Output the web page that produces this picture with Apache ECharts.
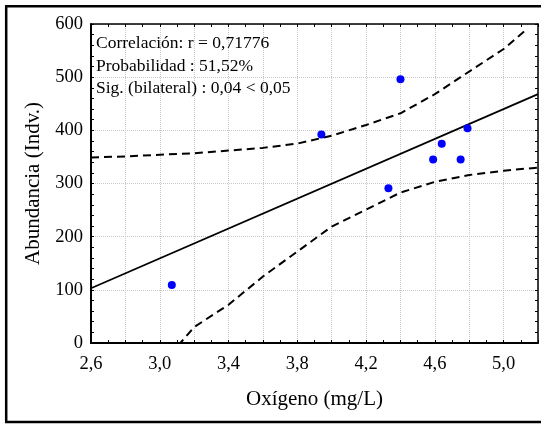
<!DOCTYPE html>
<html>
<head>
<meta charset="utf-8">
<script src="https://cdn.jsdelivr.net/npm/echarts@6/dist/echarts.min.js"></script>
<style>
html,body{margin:0;padding:0;background:#fff;}
#chart{width:541px;height:424px;}
</style>
</head>
<body>
<div id="chart"></div>
<script>
// Observed points
var oxygen = [3.07, 3.94, 4.40, 4.33, 4.59, 4.64, 4.75, 4.79];
var abundance = [109, 392, 496, 291, 345, 375, 345, 404];
// Fitted regression line
var fitX = [2.6, 5.2];
var fitY = [103, 468];
// Upper confidence band
var upperX = [2.6, 2.8, 3.0, 3.2, 3.4, 3.6, 3.8, 4.0, 4.2, 4.4, 4.6, 4.75, 5.0, 5.12];
var upperY = [349, 351, 354, 357, 362, 367, 375, 390, 410, 432, 468, 500, 553, 586];
// Lower confidence band
var lowerX = [3.0, 3.12, 3.2, 3.4, 3.6, 3.8, 4.0, 4.2, 4.4, 4.6, 4.8, 5.0, 5.2];
var lowerY = [-40, 0, 30, 72, 125, 172, 219, 251, 283, 303, 316, 324, 330];
// Annotation lines
var notes = ['Correlación: r = 0,71776', 'Probabilidad : 51,52%', 'Sig. (bilateral) : 0,04 < 0,05'];
var xTitle = 'Oxígeno (mg/L)';
var yTitle = 'Abundancia (Indv.)';

function zip(a, b) { return a.map(function (v, i) { return [v, b[i]]; }); }

var FONT = '"Liberation Serif", "Times New Roman", serif';
var chart = echarts.init(document.getElementById('chart'), null, {renderer: 'canvas'});

var noteGraphics = notes.map(function (t, i) {
  return {
    type: 'text', left: 96, top: 34.5 + i * 22.5, z: 10,
    style: {text: t, font: '17.5px ' + FONT, fill: '#000'}
  };
});

var option = {
  backgroundColor: '#fff',
  animation: false,
  grid: {left: 91, right: 3, top: 24, bottom: 81},
  xAxis: [{
    type: 'value', min: 2.6, max: 5.2, interval: 0.2,
    name: xTitle, nameLocation: 'middle', nameGap: 46,
    nameTextStyle: {fontFamily: FONT, fontSize: 21, color: '#000'},
    axisLine: {onZero: false, lineStyle: {color: '#000', width: 2}},
    axisTick: {inside: true, length: 3, lineStyle: {color: '#000'}},
    minorTick: {show: true, splitNumber: 2, length: 3, lineStyle: {color: '#000'}},
    axisLabel: {
      fontFamily: FONT, fontSize: 18.5, color: '#000', margin: 12,
      formatter: function (v) {
        var k = Math.round(v * 10);
        return (k % 4 === 2) ? (k / 10).toFixed(1).replace('.', ',') : '';
      }
    },
    splitLine: {show: true, lineStyle: {color: '#c8c8c8', type: 'dotted', width: 1}}
  }, {
    type: 'value', position: 'top', min: 2.6, max: 5.2, interval: 0.2,
    axisLine: {show: true, onZero: false, lineStyle: {color: '#000', width: 1.5}},
    axisTick: {show: true, inside: true, length: 3, lineStyle: {color: '#000'}},
    minorTick: {show: true, splitNumber: 2, length: 3, lineStyle: {color: '#000'}},
    axisLabel: {show: false}, splitLine: {show: false}
  }],
  yAxis: [{
    type: 'value', min: 0, max: 600, interval: 100,
    name: yTitle, nameLocation: 'middle', nameGap: 46,
    nameTextStyle: {fontFamily: FONT, fontSize: 21, color: '#000'},
    axisLine: {show: true, onZero: false, lineStyle: {color: '#000', width: 2}},
    axisTick: {show: true, inside: true, length: 3, lineStyle: {color: '#000'}},
    minorTick: {show: true, splitNumber: 5, length: 3, lineStyle: {color: '#000'}},
    axisLabel: {fontFamily: FONT, fontSize: 18.5, color: '#000', margin: 8},
    splitLine: {show: true, lineStyle: {color: '#c8c8c8', type: 'dotted', width: 1}}
  }, {
    type: 'value', position: 'right', min: 0, max: 600, interval: 100,
    axisLine: {show: true, onZero: false, lineStyle: {color: '#000', width: 1.5}},
    axisTick: {show: true, inside: true, length: 3, lineStyle: {color: '#000'}},
    minorTick: {show: true, splitNumber: 5, length: 3, lineStyle: {color: '#000'}},
    axisLabel: {show: false}, splitLine: {show: false}
  }],
  graphic: [{
    type: 'rect', z: 0, silent: true,
    shape: {x: 6.2, y: 6.2, width: 545, height: 415.8},
    style: {fill: 'none', stroke: '#000', lineWidth: 2.5}
  }].concat(noteGraphics),
  series: [{
    type: 'line', data: zip(upperX, upperY), symbol: 'none', clip: true,
    lineStyle: {color: '#000', width: 2, type: [8, 5]}
  }, {
    type: 'line', data: zip(lowerX, lowerY), symbol: 'none', clip: true,
    lineStyle: {color: '#000', width: 2, type: [8, 5]}
  }, {
    type: 'line', data: zip(fitX, fitY), symbol: 'none', clip: true,
    lineStyle: {color: '#000', width: 1.8}
  }, {
    type: 'scatter', data: zip(oxygen, abundance), symbol: 'circle', symbolSize: 8,
    itemStyle: {color: '#0000ff', opacity: 1}, z: 5
  }]
};
chart.setOption(option);
</script>
</body>
</html>
